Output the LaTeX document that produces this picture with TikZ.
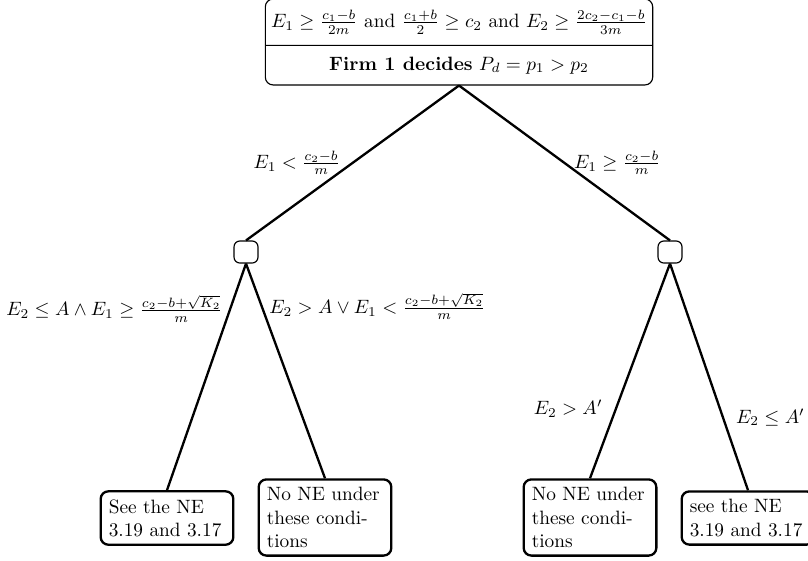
\documentclass[tikz,border=0pt]{standalone}
\usepackage{amsmath,amssymb}
\usepackage{tikz}
\usetikzlibrary{positioning,shapes.multipart}
\tikzset{
  rootbox/.style={draw,semithick,rectangle split,rectangle split parts=2,
    rounded corners=4pt,inner xsep=3pt,inner ysep=5.5pt,align=center},
  choice/.style={draw,semithick,rounded corners=3pt,minimum width=12.4pt,
    minimum height=11.4pt,inner sep=0pt},
  leaf/.style={draw,very thick,rounded corners=4pt,text width=2.12cm,
    inner sep=4.2pt},
  branch/.style={very thick}
}
\begin{document}
\begin{tikzpicture}[x=0.518pt,y=-0.518pt]
\useasboundingbox (0,0) rectangle (808,560);
\node[rootbox] (root) at (459,42)
  {$E_1 \geq \frac{c_1-b}{2m}$ and $\frac{c_1+b}{2} \geq c_2$ and $E_2 \geq \frac{2c_2-c_1-b}{3m}$
   \nodepart{two} \textbf{Firm 1 decides} $P_d = p_1 > p_2$};
\node[choice] (low) at (246,252) {};
\node[choice] (high) at (670,252) {};
\node[leaf] (lowsee) at (167,518) {See the NE 3.19 and 3.17};
\node[leaf] (lowno) at (325,517.5) {No NE under these conditions};
\node[leaf] (highno) at (590,517.5) {No NE under these conditions};
\node[leaf] (highsee) at (748,518) {see the NE 3.19 and 3.17};
% first split
\draw[branch] (root.south) -- node[midway,left=2.5pt] {$E_1 < \frac{c_2-b}{m}$} (low.north);
\draw[branch] (root.south) -- node[midway,right=1pt] {$E_1 \geq \frac{c_2-b}{m}$} (high.north);
% second split
\draw[branch] (low.south) -- node[pos=.2,left] {$E_2 \leq A \land E_1 \geq \frac{c_2-b+\sqrt{K_2}}{m}$} (lowsee.north);
\draw[branch] (low.south) -- node[pos=.2,right] {$E_2 > A \lor E_1 < \frac{c_2-b+\sqrt{K_2}}{m}$} (lowno.north);
\draw[branch] (high.south) -- node[near end,above left] {$E_2 > A'$} (highno.north);
\draw[branch] (high.south) -- node[near end,above right] {$E_2 \leq A'$} (highsee.north);
\end{tikzpicture}
\end{document}
